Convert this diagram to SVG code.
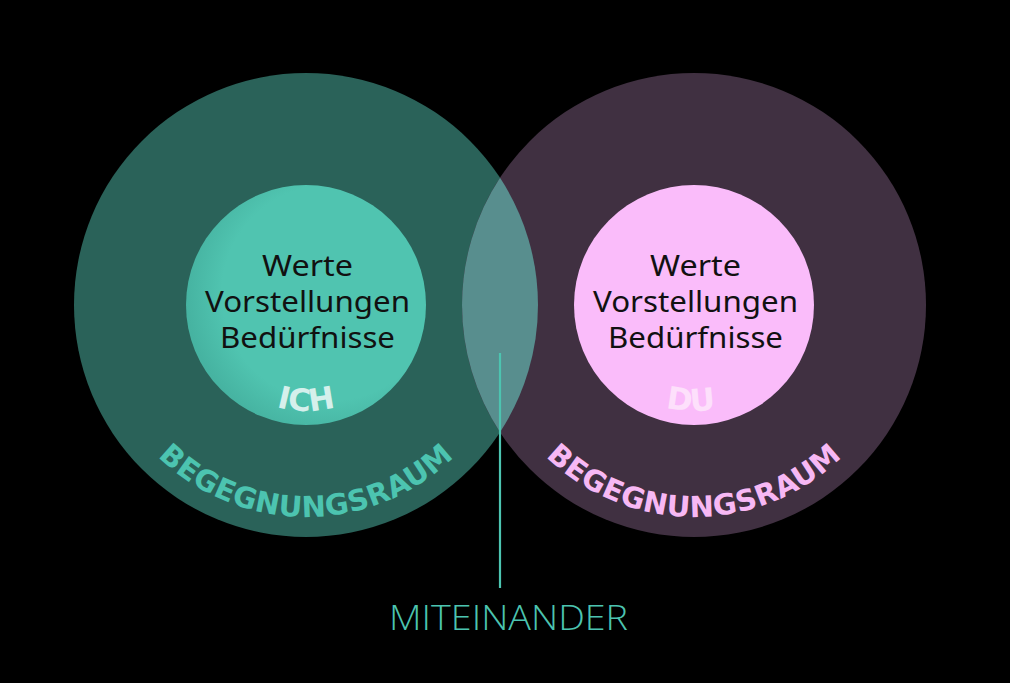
<svg xmlns="http://www.w3.org/2000/svg" width="1010" height="683" viewBox="0 0 1010 683">
  <defs>
    <radialGradient id="gInL" cx="0.6" cy="0.45" r="0.6">
      <stop offset="0.75" stop-color="#50c4b0"/>
      <stop offset="1" stop-color="#46b3a1"/>
    </radialGradient>
    <path id="arcL" d="M 94,305 A 212 212 0 0 0 518,305"/>
    <path id="arcR" d="M 482,305 A 212 212 0 0 0 906,305"/>
    <path id="arcIL" d="M 200,305 A 106 106 0 0 0 412,305"/>
    <path id="arcIR" d="M 588,305 A 106 106 0 0 0 800,305"/>
  </defs>
  <style>
    .body { font-family: "Noto Sans", "Open Sans", sans-serif; font-size: 29px; fill: #111111; text-anchor: middle; }
    .ring { font-family: "DejaVu Sans", "Liberation Sans", sans-serif; font-weight: bold; font-size: 29px; letter-spacing: 0.4px; }
    .tag { font-family: "DejaVu Sans", "Liberation Sans", sans-serif; font-weight: bold; font-size: 31px; }
    .label { font-family: "Open Sans", "Noto Sans", sans-serif; font-weight: 300; font-size: 35px; fill: #4cc4b0; text-anchor: middle; }
  </style>
  <rect width="1010" height="683" fill="#000000"/>

  <g id="ich-raum">
    <circle cx="306" cy="305" r="232" fill="#2a6259"/>
  </g>
  <g id="du-raum">
    <circle cx="694" cy="305" r="232" fill="#403041"/>
  </g>
  <g id="schnittmenge">
    <path d="M 500,177.8 A 232 232 0 0 1 500,432.2 A 232 232 0 0 1 500,177.8 Z" fill="#588e8e"/>
  </g>

  <g id="ich">
    <circle cx="306" cy="305" r="120" fill="url(#gInL)"/>
    <text class="body"><tspan x="307.5" y="276" textLength="91" lengthAdjust="spacingAndGlyphs">Werte</tspan><tspan x="307.5" y="312" textLength="205" lengthAdjust="spacingAndGlyphs">Vorstellungen</tspan><tspan x="307.5" y="348" textLength="175" lengthAdjust="spacingAndGlyphs">Bedürfnisse</tspan></text>
    <text class="tag" fill="#d5f0ec"><textPath href="#arcIL" startOffset="50%" text-anchor="middle">ICH</textPath></text>
    <text class="ring" fill="#4cc4b0"><textPath href="#arcL" startOffset="50%" text-anchor="middle">BEGEGNUNGSRAUM</textPath></text>
  </g>

  <g id="du">
    <circle cx="694" cy="305" r="120" fill="#fabcfa"/>
    <text class="body"><tspan x="695.5" y="276" textLength="91" lengthAdjust="spacingAndGlyphs">Werte</tspan><tspan x="695.5" y="312" textLength="205" lengthAdjust="spacingAndGlyphs">Vorstellungen</tspan><tspan x="695.5" y="348" textLength="175" lengthAdjust="spacingAndGlyphs">Bedürfnisse</tspan></text>
    <text class="tag" fill="#fde0fb"><textPath href="#arcIR" startOffset="49%" text-anchor="middle">DU</textPath></text>
    <text class="ring" fill="#f7b8f4"><textPath href="#arcR" startOffset="50%" text-anchor="middle">BEGEGNUNGSRAUM</textPath></text>
  </g>

  <g id="connectors">
    <line x1="500" y1="353" x2="500" y2="588" stroke="#4cc4b0" stroke-width="2.2"/>
  </g>

  <g id="miteinander">
    <text class="label" x="508.5" y="630" textLength="239" lengthAdjust="spacingAndGlyphs">MITEINANDER</text>
  </g>
</svg>
